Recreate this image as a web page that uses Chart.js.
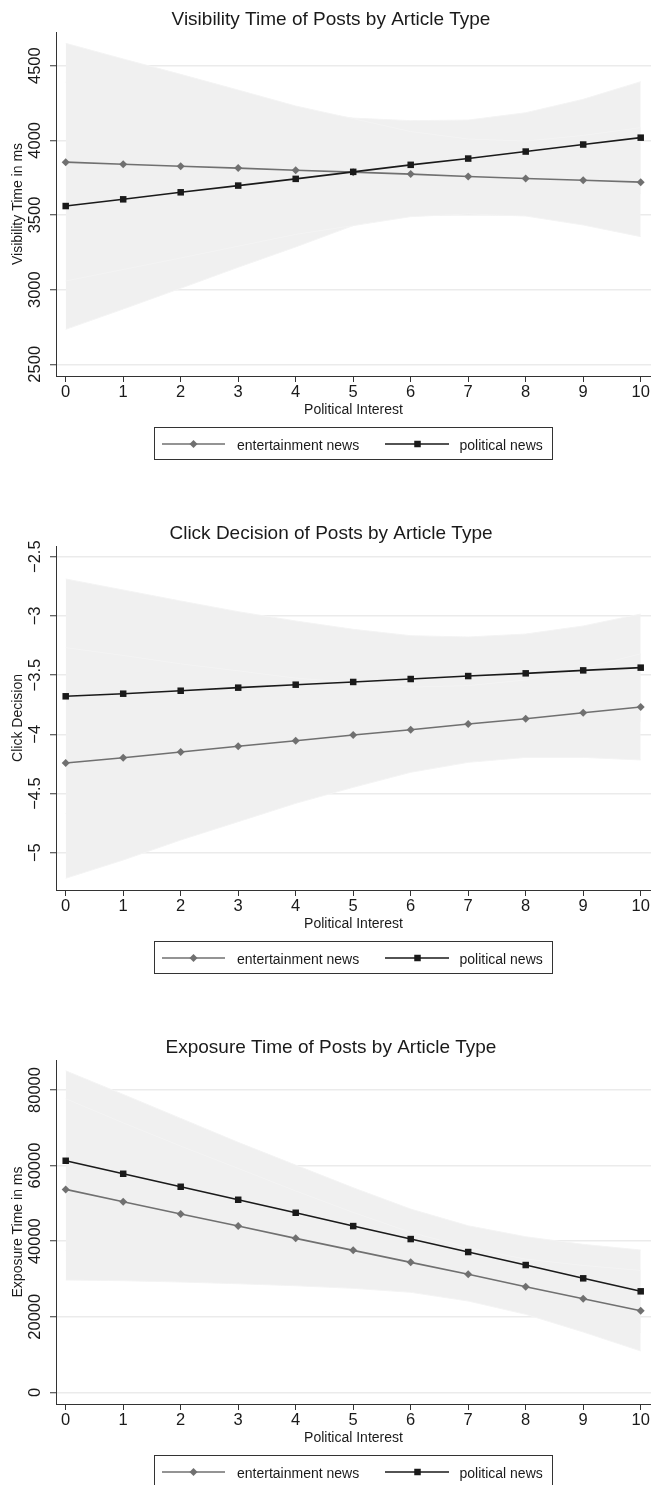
<!DOCTYPE html>
<html>
<head>
<meta charset="utf-8">
<script src="https://cdn.jsdelivr.net/npm/chart.js@4.4.1/dist/chart.umd.min.js"></script>
<style>
html,body{margin:0;padding:0;background:#fff;overflow:hidden;width:651px;height:1485px;}
.panel{position:absolute;left:0;width:651px;height:514px;}
canvas{display:block;}
</style>
</head>
<body>
<div class="panel" style="top:0px"><canvas id="c1" width="651" height="514"></canvas></div>
<div class="panel" style="top:514px"><canvas id="c2" width="651" height="514"></canvas></div>
<div class="panel" style="top:1028px"><canvas id="c3" width="651" height="514"></canvas></div>
<script>
// ---------------- DATA ----------------
const politicalInterest = [0, 1, 2, 3, 4, 5, 6, 7, 8, 9, 10];
const seriesNames = ['entertainment news', 'political news'];
const xAxisTitle = 'Political Interest';

// Panel 1: Visibility time (ms)
const visTitle = 'Visibility Time of Posts by Article Type';
const visYTitle = 'Visibility Time in ms';
const visTicks = [2500, 3000, 3500, 4000, 4500];
const visEnt   = [3854, 3840, 3827, 3814, 3800, 3787, 3774, 3758, 3744, 3733, 3720];
const visEntLo = [3058, 3135, 3212, 3291, 3370, 3429, 3489, 3507, 3493, 3433, 3355];
const visEntHi = [4650, 4545, 4442, 4337, 4230, 4145, 4059, 4009, 3995, 4033, 4085];
const visPol   = [3560, 3605, 3652, 3697, 3742, 3789, 3836, 3878, 3925, 3972, 4018];
const visPolLo = [2734, 2870, 3009, 3150, 3286, 3429, 3540, 3620, 3665, 3669, 3643];
const visPolHi = [4390, 4340, 4295, 4244, 4198, 4149, 4132, 4136, 4185, 4275, 4393];

// Panel 2: Click decision
const clkTitle = 'Click Decision of Posts by Article Type';
const clkYTitle = 'Click Decision';
const clkTicks = [-5, -4.5, -4, -3.5, -3, -2.5];
const clkEnt   = [-4.242, -4.198, -4.149, -4.101, -4.054, -4.006, -3.961, -3.913, -3.868, -3.818, -3.769];
const clkEntLo = [-5.216, -5.062, -4.893, -4.738, -4.583, -4.448, -4.321, -4.237, -4.195, -4.195, -4.217];
const clkEntHi = [-3.268, -3.334, -3.405, -3.464, -3.525, -3.564, -3.601, -3.589, -3.541, -3.441, -3.321];
const clkPol   = [-3.679, -3.657, -3.632, -3.606, -3.581, -3.558, -3.533, -3.508, -3.485, -3.460, -3.437];
const clkPolLo = [-4.670, -4.533, -4.390, -4.248, -4.119, -4.003, -3.899, -3.838, -3.817, -3.835, -3.890];
const clkPolHi = [-2.688, -2.781, -2.874, -2.964, -3.043, -3.113, -3.167, -3.178, -3.153, -3.085, -2.984];

// Panel 3: Exposure time (ms)
const expTitle = 'Exposure Time of Posts by Article Type';
const expYTitle = 'Exposure Time in ms';
const expTicks = [0, 20000, 40000, 60000, 80000];
const expEnt   = [53700, 50420, 47170, 43990, 40740, 37560, 34390, 31220, 27940, 24760, 21590];
const expEntLo = [29710, 29530, 29180, 28730, 28200, 27510, 26460, 24150, 20630, 15950, 10930];
const expEntHi = [77690, 71310, 65160, 59250, 53280, 47610, 42320, 38290, 35250, 33570, 32250];
const expPol   = [61270, 57830, 54390, 50950, 47510, 43990, 40550, 37120, 33680, 30160, 26720];
const expPolLo = [37460, 36820, 36290, 35760, 34890, 33850, 32610, 30170, 26190, 21170, 15790];
const expPolHi = [85080, 78840, 72490, 66140, 60130, 54130, 48490, 44070, 41170, 39150, 37650];

// ---------------- STYLE ----------------
const FONT = '"Liberation Sans", Arial, Helvetica, sans-serif';
const ENT_COLOR = '#707070';
const POL_COLOR = '#1a1a1a';
const BAND = '#f0f0f0';
const BAND_EDGE = '#f4f4f4';
const AXIS = '#333333';
const GRID = '#ebebeb';
const TXT = '#1a1a1a';
const TICK_FONT = 16.5;
const SMALL_FONT = 14;

Chart.defaults.font.family = FONT;
Chart.defaults.color = TXT;

const decor = {
  id: 'decor',
  afterDraw(chart, args, opts) {
    const ctx = chart.ctx;
    ctx.save();
    ctx.fillStyle = TXT;
    ctx.font = '19px ' + FONT;
    ctx.textAlign = 'center';
    ctx.textBaseline = 'alphabetic';
    ctx.fillText(opts.title, 331, 25);

    // legend box
    ctx.strokeStyle = AXIS;
    ctx.lineWidth = 1;
    ctx.strokeRect(154.5, 427.5, 398, 32);
    const ly = 444;
    const items = [
      {x0: 162, x1: 225, mx: 193.5, tx: 237, color: ENT_COLOR, style: 'diamond', label: seriesNames[0]},
      {x0: 385, x1: 449, mx: 417.5, tx: 459.5, color: POL_COLOR, style: 'square', label: seriesNames[1]}
    ];
    ctx.font = SMALL_FONT + 'px ' + FONT;
    ctx.textAlign = 'left';
    items.forEach(it => {
      ctx.strokeStyle = it.color;
      ctx.lineWidth = 1.6;
      ctx.beginPath();
      ctx.moveTo(it.x0, ly);
      ctx.lineTo(it.x1, ly);
      ctx.stroke();
      ctx.fillStyle = it.color;
      ctx.beginPath();
      if (it.style === 'diamond') {
        const r = 4;
        ctx.moveTo(it.mx, ly - r); ctx.lineTo(it.mx + r, ly); ctx.lineTo(it.mx, ly + r); ctx.lineTo(it.mx - r, ly);
        ctx.closePath();
      } else {
        const s = 3.25;
        ctx.rect(it.mx - s, ly - s, 2 * s, 2 * s);
      }
      ctx.fill();
      ctx.fillStyle = TXT;
      ctx.fillText(it.label, it.tx, 449.5);
    });
    ctx.restore();
  }
};

function measureMax(labels, font) {
  const c = document.createElement('canvas').getContext('2d');
  c.font = font;
  return Math.max(...labels.map(l => c.measureText(l).width));
}

function makeChart(id, p) {
  const pts = arr => politicalInterest.map((x, i) => ({x: x, y: arr[i]}));
  const yLabels = p.yTicks.map(p.fmt);
  const maxW = measureMax(yLabels, TICK_FONT + 'px ' + FONT);
  const yPad = 15 - maxW / 2;
  const bandSet = (lo, hi) => [
    {data: pts(lo), borderColor: BAND_EDGE, borderWidth: 1, pointRadius: 0, fill: false, order: 10, tension: 0},
    {data: pts(hi), borderColor: BAND_EDGE, borderWidth: 1, pointRadius: 0, fill: '-1', backgroundColor: BAND, order: 10, tension: 0}
  ];
  const datasets = [
    ...bandSet(p.entLo, p.entHi),
    ...bandSet(p.polLo, p.polHi),
    {label: seriesNames[0], data: pts(p.ent), borderColor: ENT_COLOR, borderWidth: 1.6, backgroundColor: ENT_COLOR,
     pointStyle: 'rectRot', pointRadius: 4, pointBorderWidth: 0, pointBackgroundColor: ENT_COLOR, fill: false, order: 2, tension: 0},
    {label: seriesNames[1], data: pts(p.pol), borderColor: POL_COLOR, borderWidth: 1.6, backgroundColor: POL_COLOR,
     pointStyle: 'rect', pointRadius: 4.6, pointBorderWidth: 0, pointBackgroundColor: POL_COLOR, fill: false, order: 1, tension: 0}
  ];
  return new Chart(document.getElementById(id), {
    type: 'line',
    data: {datasets},
    plugins: [decor],
    options: {
      responsive: false,
      animation: false,
      events: [],
      devicePixelRatio: 1,
      layout: {autoPadding: false, padding: {top: 32, left: 0, right: 0, bottom: 92}},
      plugins: {
        legend: {display: false},
        title: {display: false},
        tooltip: {enabled: false},
        decor: {title: p.title}
      },
      scales: {
        x: {
          type: 'linear',
          min: -0.1687, max: 10.179,
          afterBuildTicks: s => { s.ticks = politicalInterest.map(v => ({value: v})); },
          afterFit: s => { s.height = 46; s.paddingLeft = 0; s.paddingRight = 0; s.paddingTop = 0; s.paddingBottom = 0; },
          ticks: {autoSkip: false, maxRotation: 0, minRotation: 0, padding: 0.6,
                  font: {size: TICK_FONT}, color: TXT, callback: v => String(v)},
          grid: {display: true, drawOnChartArea: false, drawTicks: true, tickLength: 6, tickColor: AXIS, tickWidth: 1},
          border: {display: true, color: AXIS, width: 1},
          title: {display: true, text: xAxisTitle, font: {size: SMALL_FONT}, color: TXT, padding: {top: 0, bottom: 3.4}}
        },
        y: {
          type: 'linear',
          min: p.yMin, max: p.yMax,
          afterBuildTicks: s => { s.ticks = p.yTicks.map(v => ({value: v})); },
          afterFit: s => { s.width = 56; s.paddingLeft = 0; s.paddingRight = 0; s.paddingTop = 0; s.paddingBottom = 0; },
          ticks: {autoSkip: false, minRotation: 90, maxRotation: 90, crossAlign: 'center', padding: yPad,
                  font: {size: TICK_FONT}, color: TXT, callback: v => p.fmt(v)},
          grid: {display: true, drawOnChartArea: true, drawTicks: true, tickLength: 6, color: GRID, lineWidth: 1.5, tickColor: AXIS, tickWidth: 1},
          border: {display: true, color: AXIS, width: 1},
          title: {display: true, text: p.yTitle, font: {size: SMALL_FONT}, color: TXT, padding: {top: 9.3, bottom: 0}}
        }
      }
    }
  });
}

const plainFmt = v => String(v);
const minusFmt = v => (v < 0 ? '\u2212' : '') + String(Math.abs(v));

makeChart('c1', {title: visTitle, yTitle: visYTitle, yTicks: visTicks, fmt: plainFmt, yMin: 2421.6, yMax: 4725.7,
  ent: visEnt, entLo: visEntLo, entHi: visEntHi, pol: visPol, polLo: visPolLo, polHi: visPolHi});
makeChart('c2', {title: clkTitle, yTitle: clkYTitle, yTicks: clkTicks, fmt: minusFmt, yMin: -5.315, yMax: -2.4096,
  ent: clkEnt, entLo: clkEntLo, entHi: clkEntHi, pol: clkPol, polLo: clkPolLo, polHi: clkPolHi});
makeChart('c3', {title: expTitle, yTitle: expYTitle, yTicks: expTicks, fmt: plainFmt, yMin: -3096, yMax: 87939,
  ent: expEnt, entLo: expEntLo, entHi: expEntHi, pol: expPol, polLo: expPolLo, polHi: expPolHi});
</script>
</body>
</html>
